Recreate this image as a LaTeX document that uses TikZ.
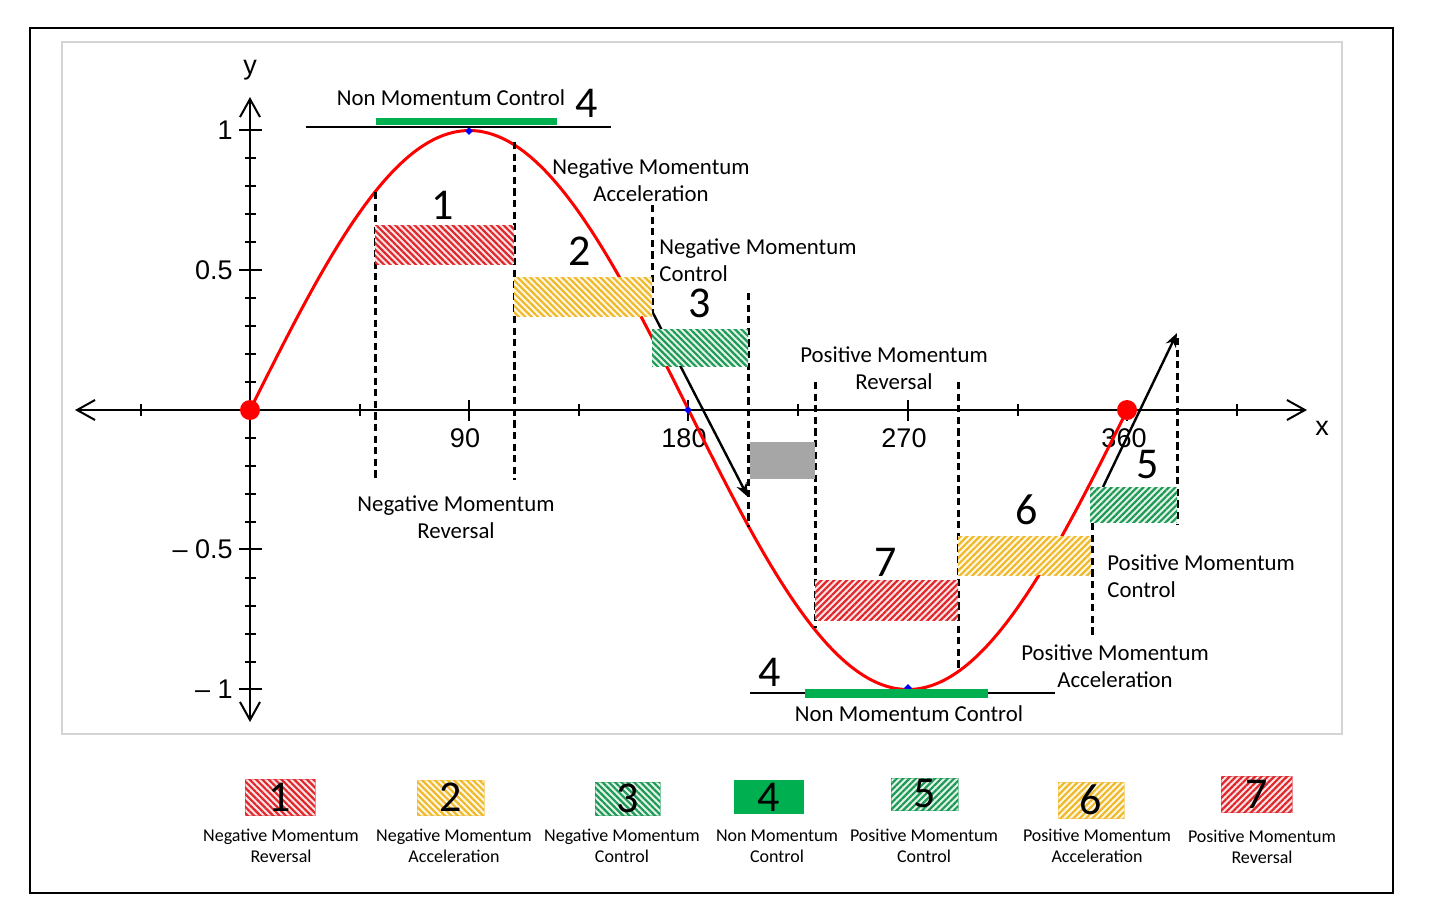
\documentclass[tikz,border=0pt]{standalone}
\usepackage{fontspec}
\setmainfont{Carlito}
\newfontfamily\axfont{Liberation Sans}
\usetikzlibrary{arrows.meta,patterns.meta,shapes.geometric}
\definecolor{hred}{HTML}{E0282C}
\definecolor{hyel}{HTML}{F0B92A}
\definecolor{hgrn}{HTML}{1E9A55}
\definecolor{sgrn}{HTML}{00B050}
\definecolor{gbox}{HTML}{A6A6A6}
\definecolor{framegray}{HTML}{D4D4D4}
\definecolor{cred}{HTML}{FF0000}
\tikzset{
  lbl/.style={font=\fontsize{11.4}{13.5}\selectfont, align=center, inner sep=0pt},
  bignum/.style={font=\fontsize{22}{24}\selectfont, inner sep=0pt},
  legtxt/.style={font=\fontsize{9}{10.5}\selectfont, align=center, inner sep=0pt},
  axnum/.style={font=\axfont\fontsize{13.5}{15}\selectfont, inner sep=0pt},
  dashline/.style={line width=1.5pt, dash pattern=on 3.6pt off 2.2pt},
  axisline/.style={line width=1pt},
  barbtip/.tip={Straight Barb[length=9pt,width=10pt]},
  arr/.style={line width=1.2pt, -{Stealth[length=7pt,width=5.5pt]}},
  hb/.style 2 args={draw=none, inner sep=0pt, outer sep=0pt, fill=#2!12,
    postaction={pattern={Lines[angle=#1,distance=2.25pt,line width=1.1pt]}, pattern color=#2}},
  lb/.style 2 args={hb={#1}{#2}, draw=#2!50, line width=0.4pt},
  dot/.style={circle, fill=cred, minimum size=10pt, inner sep=0pt},
  bmark/.style={diamond, fill=blue, minimum size=4pt, inner sep=0pt},
}
\begin{document}
\begin{tikzpicture}[x=0.5pt,y=-0.5pt]
\useasboundingbox (0,0) rectangle (1456,918);
\fill[white] (0,0) rectangle (1456,918);
% frames
\draw[line width=1.3pt] (30,28) rectangle (1393,893);
\draw[framegray, line width=0.6pt] (62,42) rectangle (1342,734);

% axes
\coordinate (xl) at (75,410); \coordinate (xr) at (1307,410);
\coordinate (yt) at (250,97); \coordinate (yb) at (250,722);
\draw[axisline, barbtip-barbtip] (xl) -- (xr);
\draw[axisline, barbtip-barbtip] (yb) -- (yt);
\foreach \t in {141,360,579,798,1018,1237} \draw[axisline] (\t,404) -- (\t,416);
\foreach \t in {469,688,908,1127} \draw[axisline] (\t,400) -- (\t,421);
\foreach \k in {1,2,3,4,6,7,8,9} {
  \draw[axisline] (245,{410-\k*27.95}) -- (256,{410-\k*27.95});
  \draw[axisline] (245,{410+\k*27.95}) -- (256,{410+\k*27.95});
}
\foreach \v in {130,270,549,689} \draw[axisline] (239,\v) -- (262,\v);

% axis labels
\node[axnum] (ylab) at (250,70) {y};
\node[axnum] (xlab) at (1322,428) {x};
\node[axnum, anchor=east] (yl1) at (233,130) {1};
\node[axnum, anchor=east] (yl05) at (233,270) {0.5};
\node[axnum, anchor=east] (ylm05) at (233,549) {– 0.5};
\node[axnum, anchor=east] (ylm1) at (233,689) {– 1};
\node[axnum] (x90) at (465,438) {90};
\node[axnum] (x180) at (684,438) {180};
\node[axnum] (x270) at (904,438) {270};
\node[axnum] (x360) at (1124,438) {360};

% sine curve
\draw[cred, line width=1.5pt] plot[domain=0:360, samples=200, smooth] ({250+2.4367*\x},{410-279.5*sin(\x)});
\node[bmark] (bm1) at (469,131) {};
\node[bmark] (bm2) at (688,410) {};
\node[bmark] (bm3) at (908,688) {};

% top / bottom non momentum control
\coordinate (tl1) at (306,127); \coordinate (tl2) at (611,127);
\draw[line width=1.1pt] (tl1) -- (tl2);
\fill[sgrn] (376,118) rectangle (557,125);
\node[lbl] (tNMCtop) at (451,98) {Non Momentum Control};
\node[bignum] (n4top) at (587,103) {4};
\coordinate (bl1) at (750,693); \coordinate (bl2) at (1055,693);
\draw[line width=1.1pt] (bl1) -- (bl2);
\fill[sgrn] (805,689) rectangle (988,698);
\node[lbl] (tNMCbot) at (909,714) {Non Momentum Control};
\node[bignum] (n4bot) at (770,672) {4};

% dashed lines
\draw[dashline] (375,192) -- (375,480);
\draw[dashline] (514,142) -- (514,480);
\draw[dashline] (652,205) -- (652,313);
\draw[dashline] (748,293) -- (748,527);
\draw[dashline] (815,382) -- (815,628);
\draw[dashline] (958,382) -- (958,668);
\draw[dashline] (1092,523) -- (1092,638);
\draw[dashline] (1177,338) -- (1177,525);

% arrows
\coordinate (a1s) at (653,313); \coordinate (a1e) at (748,497);
\draw[arr] (a1s) -- (a1e);
\coordinate (a2s) at (1103,487); \coordinate (a2e) at (1177,333);
\draw[arr] (a2s) -- (a2e);

% hatched boxes
\node[hb={-45}{hred}, minimum width=69.5pt, minimum height=19.5pt] (b1) at (444.5,244.5) {};
\node[hb={-45}{hyel}, minimum width=69pt, minimum height=19.5pt] (b2) at (583,296.5) {};
\node[hb={-45}{hgrn}, minimum width=48pt, minimum height=18.5pt] (b3) at (700,347.5) {};
\node[fill=gbox, inner sep=0pt, minimum width=32.5pt, minimum height=18.5pt] (gb) at (782,460.5) {};
\node[hb={45}{hred}, minimum width=71.5pt, minimum height=20pt] (b7) at (886.5,600) {};
\node[hb={45}{hyel}, minimum width=66.5pt, minimum height=19.5pt] (b6) at (1024.5,555.5) {};
\node[hb={45}{hgrn}, minimum width=43.5pt, minimum height=17.5pt] (b5) at (1133.5,504.5) {};

% red dots
\node[dot] (d0) at (250,410) {};
\node[dot] (d360) at (1127,410) {};

% big numbers
\node[bignum] (n1) at (443,205) {1};
\node[bignum] (n2) at (580,251) {2};
\node[bignum] (n3) at (700,303) {3};
\node[bignum] (n7) at (886,562) {7};
\node[bignum] (n6) at (1027,510) {6};
\node[bignum] (n5) at (1148,465) {5};

% labels
\node[lbl] (tNMA) at (651,180) {Negative Momentum\\Acceleration};
\node[lbl, align=left, anchor=west] (tNMC) at (659,260) {Negative Momentum\\Control};
\node[lbl] (tPMR) at (894,368) {Positive Momentum\\Reversal};
\node[lbl] (tNMR) at (456,517) {Negative Momentum\\Reversal};
\node[lbl, align=left, anchor=west] (tPMC) at (1107,576) {Positive Momentum\\Control};
\node[lbl] (tPMA) at (1115,666) {Positive Momentum\\Acceleration};

% legend
\node[lb={-45}{hred}, minimum width=35pt, minimum height=18pt] (L1) at (280,797) {};
\node[lb={-45}{hyel}, minimum width=33.5pt, minimum height=17.5pt] (L2) at (450.5,797.5) {};
\node[lb={-45}{hgrn}, minimum width=32.5pt, minimum height=16.5pt] (L3) at (627.5,798.5) {};
\node[fill=sgrn, inner sep=0pt, minimum width=35pt, minimum height=17pt] (L4) at (769,797) {};
\node[lb={45}{hgrn}, minimum width=33.5pt, minimum height=16pt] (L5) at (924.5,794) {};
\node[lb={45}{hyel}, minimum width=33pt, minimum height=18pt] (L6) at (1091,800) {};
\node[lb={45}{hred}, minimum width=35.5pt, minimum height=18pt] (L7) at (1256.5,794) {};
\node[bignum] (LN1) at (L1) {1};
\node[bignum] (LN2) at (L2) {2};
\node[bignum] (LN3) at (L3) {3};
\node[bignum] (LN4) at (L4) {4};
\node[bignum] (LN5) at (L5) {5};
\node[bignum] (LN6) at (L6) {6};
\node[bignum] (LN7) at (L7) {7};
\node[legtxt] (LT1) at (281,846) {Negative Momentum\\Reversal};
\node[legtxt] (LT2) at (454,846) {Negative Momentum\\Acceleration};
\node[legtxt] (LT3) at (622,846) {Negative Momentum\\Control};
\node[legtxt] (LT4) at (777,846) {Non Momentum\\Control};
\node[legtxt] (LT5) at (924,846) {Positive Momentum\\Control};
\node[legtxt] (LT6) at (1097,846) {Positive Momentum\\Acceleration};
\node[legtxt] (LT7) at (1262,847) {Positive Momentum\\Reversal};
\end{tikzpicture}
\end{document}
